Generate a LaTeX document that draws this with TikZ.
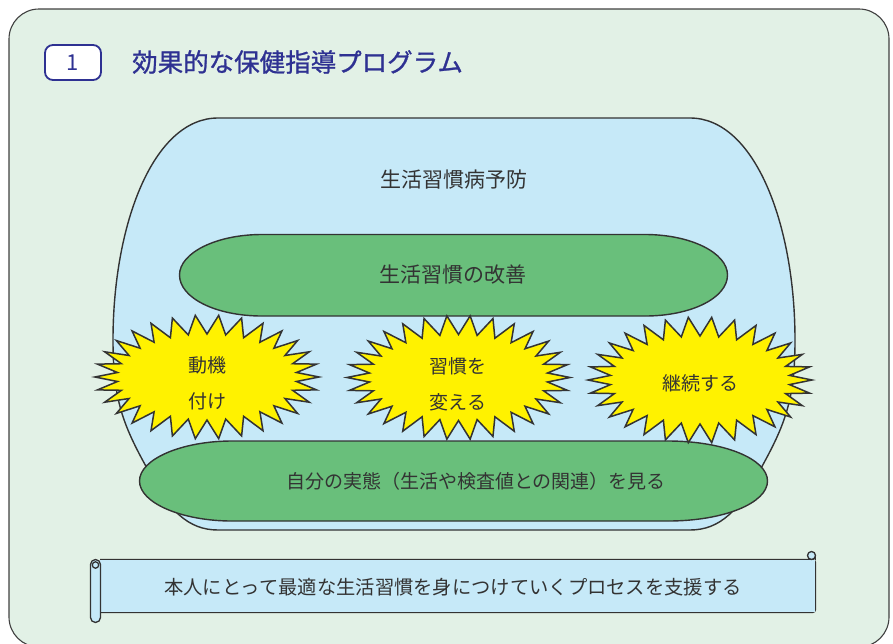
\documentclass[tikz,border=0pt]{standalone}
\usepackage{fontspec}
\newfontfamily\jp{Noto Sans CJK JP}
\newfontfamily\jpb[FakeBold=1.0]{Noto Sans CJK JP}
\definecolor{panelbg}{HTML}{E2F1E6}
\definecolor{bluebg}{HTML}{C6E9F8}
\definecolor{greenbg}{HTML}{69BF7B}
\definecolor{yellowbg}{HTML}{FFF200}
\definecolor{navy}{HTML}{2E3192}
\definecolor{ink}{HTML}{333333}
\tikzset{
  outl/.style={draw=ink, line width=1.4pt},
  starst/.style={outl, fill=yellowbg, line width=1.5pt, line join=miter},
  txt/.style={text=ink, font=\jp\fontsize{19}{23}\selectfont, inner sep=0pt},
  bigtxt/.style={txt, font=\jp\fontsize{21}{25}\selectfont},
  sc/.style={outl, fill=bluebg, line width=1.3pt},
}
\newcommand\starburst[4]{%
  \draw[starst] plot[samples=61,domain=0:360,variable=\t]
   ({#1+(#3-22*mod(round(\t/6),2))*cos(\t)},{#2+(#4-19*mod(round(\t/6),2))*sin(\t)}) -- cycle;}
\begin{document}
\begin{tikzpicture}[x=1pt,y=-1pt,line join=round]
\useasboundingbox (0,0) rectangle (893,643);
\begin{scope}
\clip (0,0) rectangle (893,643);
% panel
\draw[fill=panelbg, draw=black!75, line width=1.1pt, rounded corners=30pt] (9,9) rectangle (889,647);
\end{scope}
% title
\node[draw=navy, line width=1.8pt, rounded corners=8pt, fill=white, minimum width=56pt, minimum height=35pt, text=navy, font=\jp\fontsize{22}{22}\selectfont] (num) at (73,62.5) {1};
\node[anchor=west, text=navy, inner sep=0pt, font=\jpb\fontsize{25.5}{26}\selectfont] (title) at (132,62) {効果的な保健指導プログラム};
% big blue barrel
\draw[outl, fill=bluebg] (218,118) -- (690,118)
  .. controls (755,118) and (795,225) .. (795,340)
  .. controls (795,400) and (785,425) .. (760,470)
  .. controls (740,510) and (720,530) .. (690,530)
  -- (218,530)
  .. controls (188,530) and (168,510) .. (148,470)
  .. controls (123,425) and (113,400) .. (113,340)
  .. controls (113,225) and (153,118) .. (218,118) -- cycle;
\node[bigtxt] (prev) at (454,180) {生活習慣病予防};
% green 1
\draw[outl, fill=greenbg] (262,234.5) -- (645,234.5)
  .. controls (691,234.5) and (727.5,253) .. (727.5,275)
  .. controls (727.5,298) and (691,316) .. (645,316)
  -- (262,316)
  .. controls (216,316) and (179.5,298) .. (179.5,275)
  .. controls (179.5,253) and (216,234.5) .. (262,234.5) -- cycle;
\node[bigtxt] (kaizen) at (453,275) {生活習慣の改善};
% green 2
\draw[outl, fill=greenbg] (232,441) -- (668,441)
  .. controls (724,441) and (767.5,459) .. (767.5,481)
  .. controls (767.5,503) and (724,521) .. (668,521)
  -- (232,521)
  .. controls (182,521) and (139.5,503) .. (139.5,481)
  .. controls (139.5,459) and (182,441) .. (232,441) -- cycle;
\node[txt] (jittai) at (476,481) {自分の実態（生活や検査値との関連）を見る};
% stars
\starburst{207}{377}{112}{62}
\starburst{458.5}{377.5}{111.5}{62}
\starburst{700}{380}{112}{63}
\node[txt] (s1a) at (207,365) {動機};
\node[txt] (s1b) at (207,401) {付け};
\node[txt] (s2a) at (458,366) {習慣を};
\node[txt] (s2b) at (458,402) {変える};
\node[txt] (s3) at (700,383) {継続する};
% scroll
\draw[sc, rounded corners=3pt] (100,559.5) -- (815.5,559.5) -- (815.5,612.5) -- (100,612.5);
\fill[bluebg] (100,560) rectangle (814.5,612);
\draw[sc] (815.5,560) -- (815.5,555);
\draw[sc] (811.5,555.5) circle (4);
\draw[sc, rounded corners=5pt] (90.5,559.5) rectangle (100.5,622.5);
\draw[sc] (95.5,565) circle (3.2);
\node[txt, font=\jp\fontsize{19.3}{23}\selectfont] (scrolltxt) at (453,587) {本人にとって最適な生活習慣を身につけていくプロセスを支援する};
\end{tikzpicture}
\end{document}
